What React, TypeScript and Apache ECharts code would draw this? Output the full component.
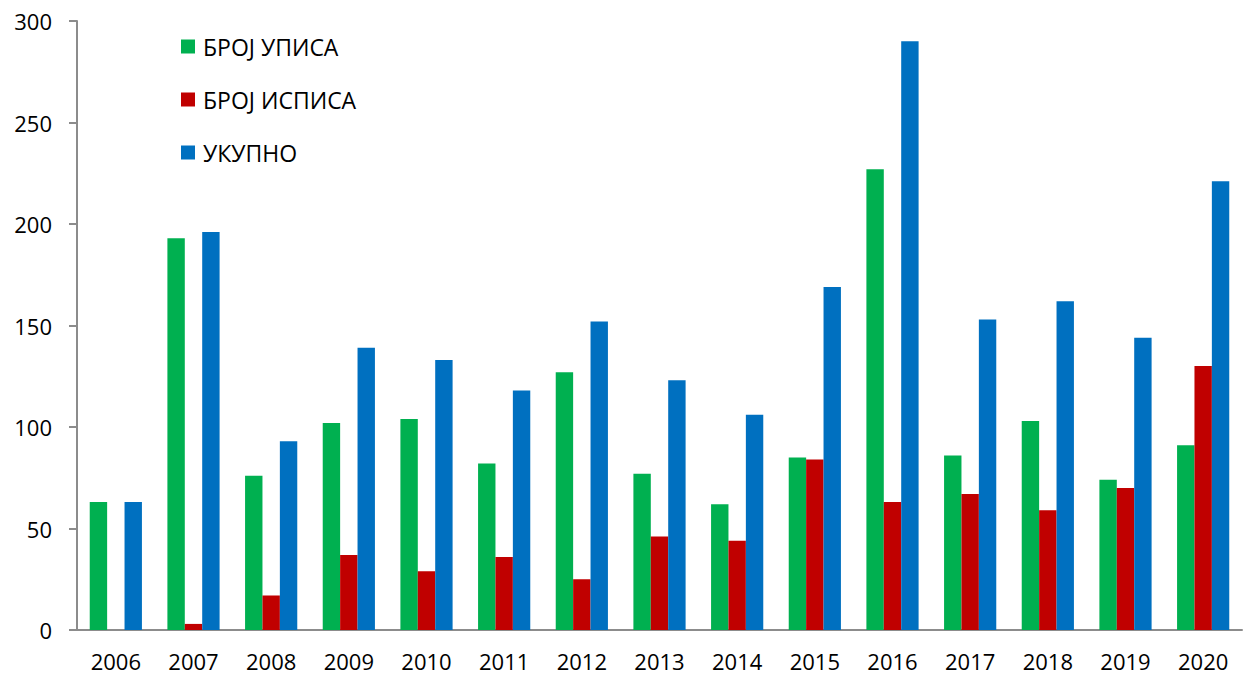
import React, { useEffect, useRef } from "react";
import * as echarts from "echarts";

const years = ["2006", "2007", "2008", "2009", "2010", "2011", "2012", "2013", "2014", "2015", "2016", "2017", "2018", "2019", "2020"];
const upis = [63, 193, 76, 102, 104, 82, 127, 77, 62, 85, 227, 86, 103, 74, 91];
const ispis = [0, 3, 17, 37, 29, 36, 25, 46, 44, 84, 63, 67, 59, 70, 130];
const ukupno = [63, 196, 93, 139, 133, 118, 152, 123, 106, 169, 290, 153, 162, 144, 221];
const seriesNames = ["БРОЈ УПИСА", "БРОЈ ИСПИСА", "УКУПНО"];
const yTicks = [0, 50, 100, 150, 200, 250, 300];

const FONT = "'Open Sans', 'Noto Sans', sans-serif";

export default function App() {
  const ref = useRef<HTMLDivElement>(null);
  useEffect(() => {
    if (!ref.current) return;
    const chart = echarts.init(ref.current, null, { renderer: "svg" });
    const colors = ["#00B050", "#C00000", "#0070C0"];
    const data = [upis, ispis, ukupno];
    chart.setOption({
      animation: false,
      backgroundColor: "#ffffff",
      textStyle: { fontFamily: FONT },
      grid: { left: 77, right: 1, top: 21, bottom: 45, containLabel: false },
      legend: {
        orient: "vertical",
        left: 181,
        top: 35,
        padding: 0,
        itemWidth: 14,
        itemHeight: 14,
        itemGap: 30,
        icon: "rect",
        textStyle: { fontSize: 23, color: "#000", fontFamily: FONT, padding: [0, 0, 0, 3] },
        data: seriesNames,
      },
      xAxis: {
        type: "category",
        data: years,
        axisLine: { lineStyle: { color: "#8c8c8c", width: 2 } },
        axisTick: { show: false },
        axisLabel: { color: "#000", fontSize: 22, margin: 20, fontFamily: FONT },
      },
      yAxis: {
        type: "value",
        min: yTicks[0],
        max: yTicks[yTicks.length - 1],
        interval: 50,
        splitLine: { show: false },
        axisLine: { show: true, lineStyle: { color: "#8c8c8c", width: 2 } },
        axisTick: { show: true, length: 8, lineStyle: { color: "#8c8c8c", width: 2 } },
        axisLabel: { color: "#000", fontSize: 22, margin: 25, fontFamily: FONT },
      },
      series: seriesNames.map((name, i) => ({
        name,
        type: "bar",
        data: data[i],
        barWidth: 17.4,
        barGap: "0%",
        itemStyle: { color: colors[i] },
      })),
    });
    return () => chart.dispose();
  }, []);
  return <div ref={ref} style={{ position: "fixed", left: 0, top: 0, width: 1243, height: 675 }} />;
}
